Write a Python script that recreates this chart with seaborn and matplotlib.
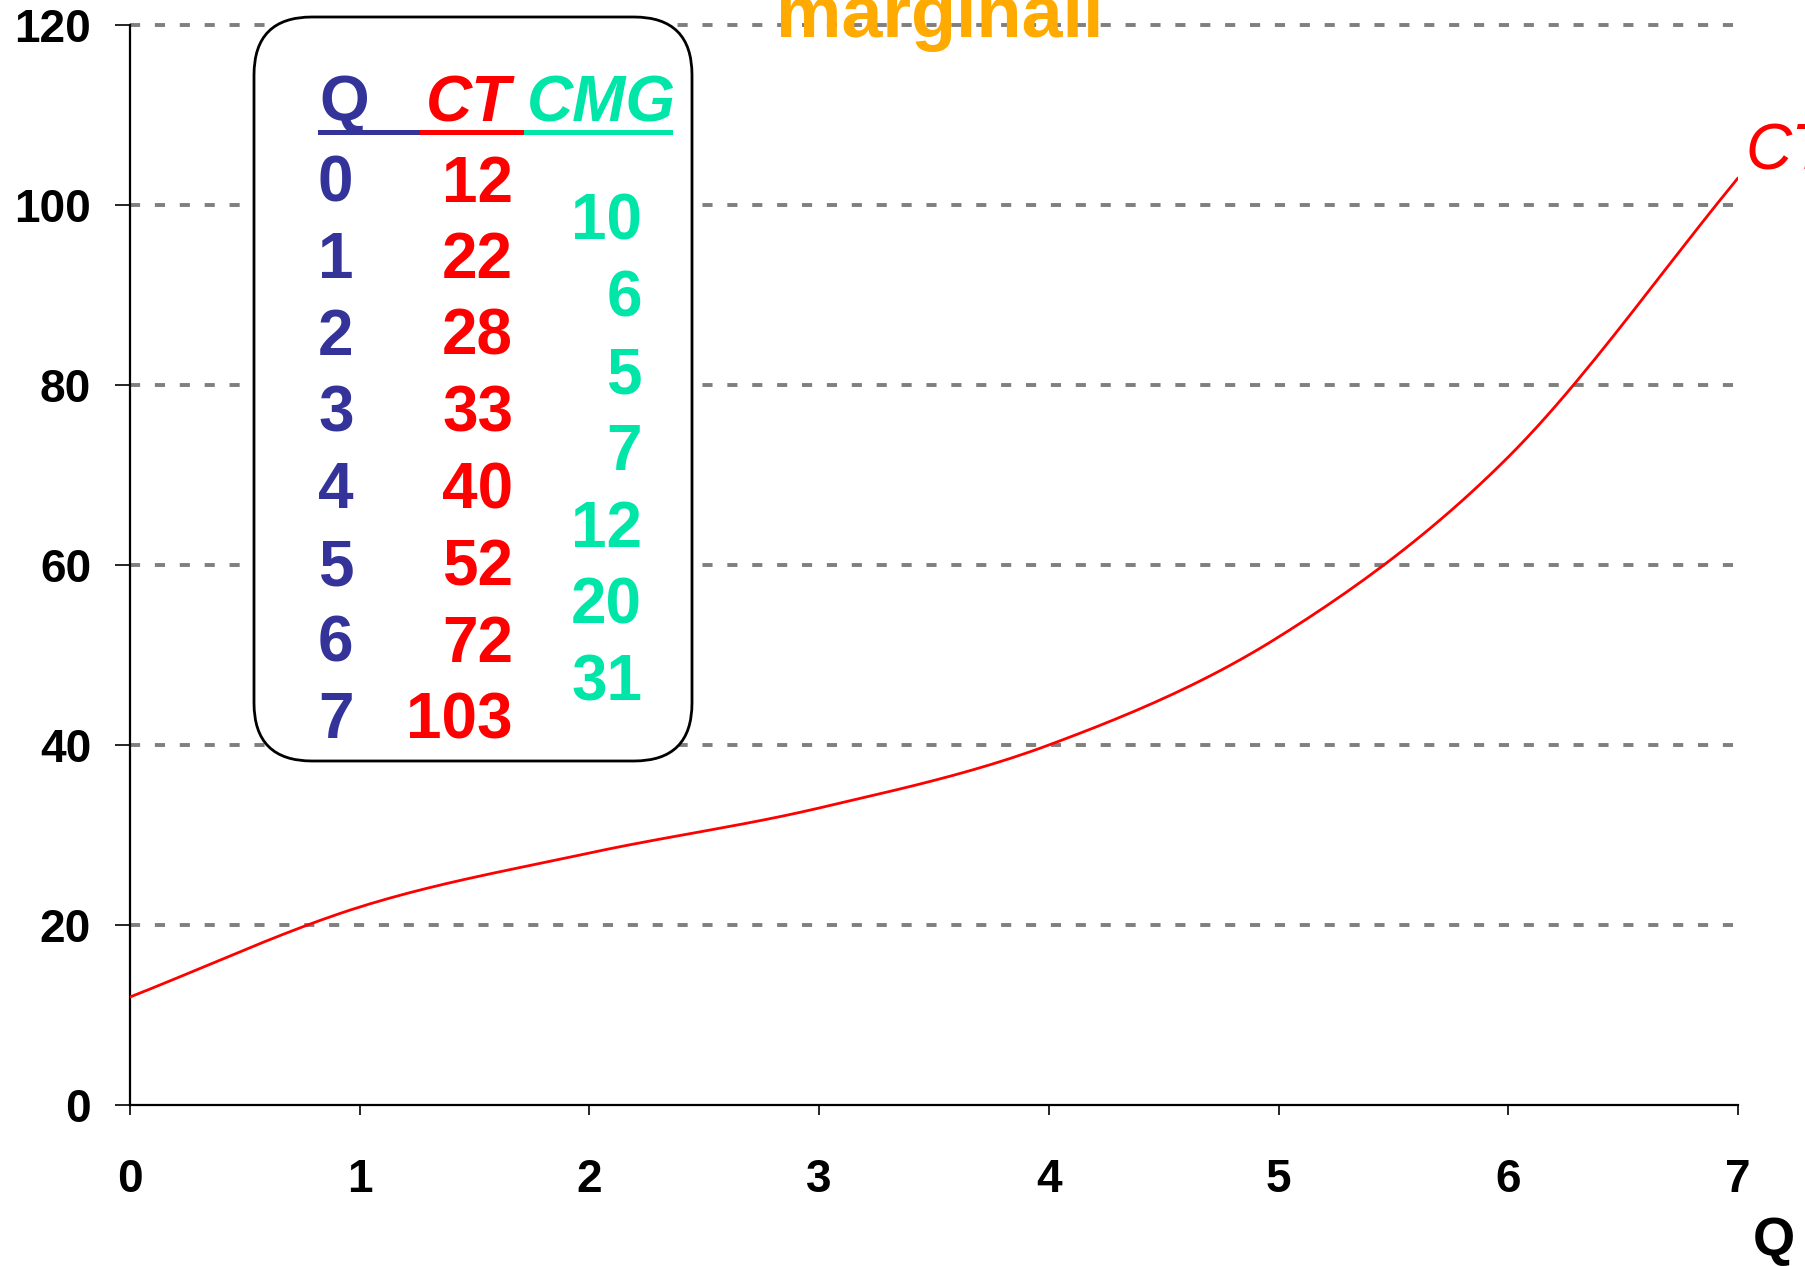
import numpy as np
import pandas as pd
import matplotlib
matplotlib.use("Agg")
import matplotlib.pyplot as plt
from matplotlib.patches import FancyBboxPatch, Rectangle
import seaborn as sns

# ---- data ----
q_values = [0, 1, 2, 3, 4, 5, 6, 7]
ct_values = [12, 22, 28, 33, 40, 52, 72, 103]
cmg_values = [10, 6, 5, 7, 12, 20, 31]
y_ticks = [0, 20, 40, 60, 80, 100, 120]
x_ticks = [0, 1, 2, 3, 4, 5, 6, 7]
title_text = "marginali"
curve_label = "CT"
x_label = "Q"
table_headers = ["Q", "CT", "CMG"]

BLUE = "#333399"
RED = "#FF0000"
GREEN = "#00E6A8"
ORANGE = "#FFAA00"

sns.set_style("white")
plt.rcParams["font.family"] = ["Liberation Sans", "DejaVu Sans"]

W, H = 1805, 1266
fig = plt.figure(figsize=(W / 100, H / 100), dpi=100)
ax = fig.add_axes([130 / W, 1 - 1105 / H, (1738 - 130) / W, (1105 - 25) / H])


def smooth(x, y, n=24):
    # Catmull-Rom rendering of the polyline (drawing style only)
    x = np.asarray(x, float)
    y = np.asarray(y, float)
    px = np.concatenate([[2 * x[0] - x[1]], x, [2 * x[-1] - x[-2]]])
    py = np.concatenate([[2 * y[0] - y[1]], y, [2 * y[-1] - y[-2]]])
    xs, ys = [], []
    t = np.linspace(0, 1, n, endpoint=False)
    for i in range(1, len(px) - 2):
        p0, p1, p2, p3 = [np.array([px[j], py[j]]) for j in (i - 1, i, i + 1, i + 2)]
        for tt in t:
            pt = 0.5 * ((2 * p1) + (-p0 + p2) * tt + (2 * p0 - 5 * p1 + 4 * p2 - p3) * tt ** 2
                        + (-p0 + 3 * p1 - 3 * p2 + p3) * tt ** 3)
            xs.append(pt[0]); ys.append(pt[1])
    xs.append(x[-1]); ys.append(y[-1])
    return np.array(xs), np.array(ys)


sx, sy = smooth(q_values, ct_values)
df = pd.DataFrame({"Q": sx, "CT": sy})
sns.lineplot(data=df, x="Q", y="CT", ax=ax, color=RED, linewidth=2.0, sort=False,
             estimator=None, zorder=3)

ax.set_xlim(0, 7)
ax.set_ylim(0, 120)
ax.set_xticks(x_ticks)
ax.set_yticks(y_ticks)
ax.set_xlabel("")
ax.set_ylabel("")
ax.set_xticklabels([str(v) for v in x_ticks], fontsize=33, fontweight="bold", color="black")
ax.set_yticklabels([str(v) for v in y_ticks], fontsize=33, fontweight="bold", color="black")
ax.tick_params(axis="y", direction="out", length=11, width=1.2, pad=17, color="black", left=True)
ax.tick_params(axis="x", direction="out", length=7, width=1.2, pad=31, color="black", bottom=True)

for s in ["top", "right"]:
    ax.spines[s].set_visible(False)
for s in ["left", "bottom"]:
    ax.spines[s].set_color("black")
    ax.spines[s].set_linewidth(1.6)

for yv in y_ticks[1:]:
    ax.axhline(yv, color="#7f7f7f", linewidth=2.8, linestyle=(0, (2.6, 3.8)), zorder=1, clip_on=False)

# CT curve label
ax.text(1745 / W, 1 - 152 / H, curve_label, transform=fig.transFigure, color=RED,
        fontsize=46, fontstyle="italic", va="center", ha="left")
# Q axis label
fig.text(1753 / W, 1 - 1255 / H, x_label, fontsize=39, fontweight="bold", color="black",
         ha="left", va="baseline")

# title fragment
fig.text(940 / W, 1 - 37 / H, title_text, fontsize=53, fontweight="bold", color=ORANGE,
         ha="center", va="baseline")

# table box
box = FancyBboxPatch((254, H - 761), 438, 744, boxstyle="round,pad=0,rounding_size=58",
                     transform=None, facecolor="white", edgecolor="black", linewidth=2, zorder=5)
fig.patches.append(box)

def fx(px):
    return px / W

def fy(py):
    return 1 - py / H

FS = 46
# header
fig.text(fx(319), fy(121), table_headers[0], color=BLUE, fontsize=FS, fontweight="bold",
         ha="left", va="baseline", zorder=6)
fig.text(fx(426), fy(121), table_headers[1], color=RED, fontsize=FS, fontweight="bold",
         fontstyle="italic", ha="left", va="baseline", zorder=6)
fig.text(fx(527), fy(121), table_headers[2], color=GREEN, fontsize=FS, fontweight="bold",
         fontstyle="italic", ha="left", va="baseline", zorder=6)
for (x0, x1, c) in [(318, 420, BLUE), (420, 524, RED), (524, 673, GREEN)]:
    fig.patches.append(Rectangle((x0, H - 135), x1 - x0, 5, transform=None,
                                 facecolor=c, edgecolor="none", zorder=6))

row0 = 178
step = 76.7
for i, (qv, cv) in enumerate(zip(q_values, ct_values)):
    yc = row0 + step * i
    fig.text(fx(318), fy(yc), str(qv), color=BLUE, fontsize=FS, fontweight="bold",
             ha="left", va="center_baseline", zorder=6)
    fig.text(fx(513), fy(yc), str(cv), color=RED, fontsize=FS, fontweight="bold",
             ha="right", va="center_baseline", zorder=6)
for i, mv in enumerate(cmg_values):
    yc = row0 + step * (i + 0.5)
    fig.text(fx(642), fy(yc), str(mv), color=GREEN, fontsize=FS, fontweight="bold",
             ha="right", va="center_baseline", zorder=6)

fig.savefig("out.png", dpi=100)
